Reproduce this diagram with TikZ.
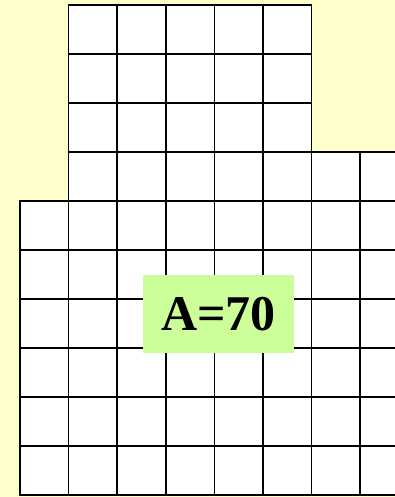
\documentclass[tikz,border=0pt]{standalone}
\usepackage{fontspec}
\setmainfont{Liberation Serif}
\definecolor{bgyellow}{RGB}{255,255,204}
\definecolor{labelgreen}{RGB}{204,255,153}
\tikzset{
  cell/.style={draw=black, fill=white, line width=1.7pt},
  arealabel/.style={fill=labelgreen, inner sep=0pt, minimum width=151pt, minimum height=78pt, font=\bfseries\fontsize{50}{50}\selectfont}
}
\begin{document}
\begin{tikzpicture}[x=1pt,y=-1pt]
\useasboundingbox (0,0) rectangle (395,497);
\fill[bgyellow] (0,0) rectangle (395,497);
\begin{scope}
\clip (0,0) rectangle (395,497);
% rows 0-2: columns 1..5
\foreach \i in {0,1,2}{
  \foreach \j in {1,...,5}{
    \draw[cell] (20+48.6*\j,5+49*\i) rectangle (20+48.6*\j+48.6,5+49*\i+49);
  }
}
% row 3: columns 1..7
\foreach \j in {1,...,7}{
  \draw[cell] (20+48.6*\j,5+49*3) rectangle (20+48.6*\j+48.6,5+49*3+49);
}
% rows 4-9: columns 0..7
\foreach \i in {4,...,9}{
  \foreach \j in {0,...,7}{
    \draw[cell] (20+48.6*\j,5+49*\i) rectangle (20+48.6*\j+48.6,5+49*\i+49);
  }
}
\end{scope}
\node[arealabel] (area) at (218.5,314) {A=70};
\end{tikzpicture}
\end{document}
